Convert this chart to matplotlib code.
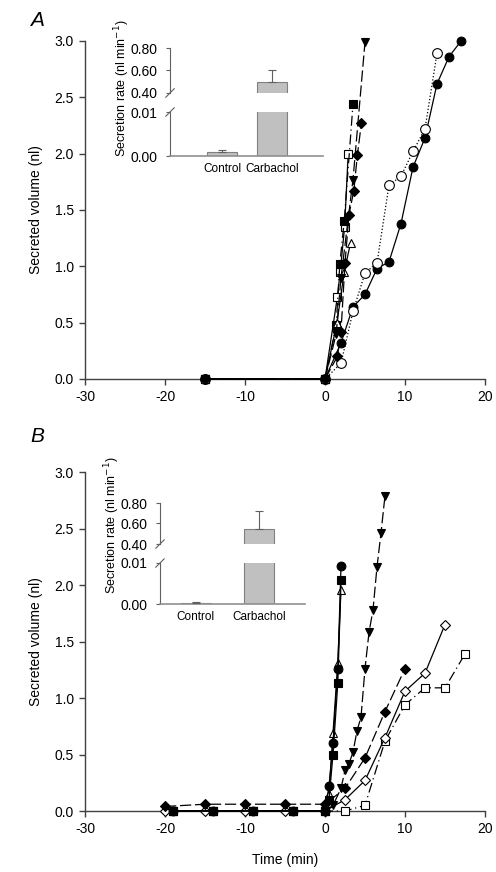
import matplotlib
matplotlib.use("Agg")
import matplotlib.pyplot as plt
import numpy as np

plt.rcParams['font.family'] = ['Liberation Sans', 'DejaVu Sans']
plt.rcParams['axes.unicode_minus'] = False

W, H = 496, 872

# ---- panel A data (time in min, volume in nl) ----
a_circ_x = [-15, 0, 2.0, 3.5, 5.0, 6.5, 8.0, 9.5, 11.0, 12.5, 14.0, 15.5, 17.0]
a_circ_y = [0, 0, 0.32, 0.64, 0.75, 0.98, 1.04, 1.38, 1.88, 2.14, 2.62, 2.86, 3.0]
a_ocirc_x = [-15, 0, 2.0, 3.5, 5.0, 6.5, 8.0, 9.5, 11.0, 12.5, 14.0]
a_ocirc_y = [0, 0, 0.14, 0.60, 0.94, 1.03, 1.72, 1.80, 2.02, 2.22, 2.89]
a_tri_x = [-15, 0, 1.4, 2.0, 3.5, 5.0]
a_tri_y = [0, 0, 0.40, 0.90, 1.77, 2.99]
a_sq_x = [-15, 0, 1.4, 1.85, 2.4, 3.5]
a_sq_y = [0, 0, 0.48, 1.02, 1.40, 2.44]
a_osq_x = [-15, 0, 1.55, 1.9, 2.45, 2.9]
a_osq_y = [0, 0, 0.73, 0.95, 1.35, 2.00]
a_dia_x = [-15, 0, 1.55, 2.0, 2.5, 3.0, 3.6, 4.05, 4.55]
a_dia_y = [0, 0, 0.20, 0.42, 1.03, 1.46, 1.67, 1.99, 2.27]
a_otri_x = [-15, 0, 1.5, 2.4, 3.2]
a_otri_y = [0, 0, 0.50, 0.95, 1.21]

# ---- panel B data ----
b_circ_x = [-19, -14, -9, -4, 0, 0.5, 1.0, 1.6, 2.0]
b_circ_y = [0, 0, 0, 0, 0, 0.22, 0.60, 1.26, 2.17]
b_sq_x = [-19, -14, -9, -4, 0, 0.5, 1.0, 1.6, 2.0]
b_sq_y = [0, 0, 0, 0, 0, 0.10, 0.50, 1.13, 2.04]
b_otri_x = [-19, -14, -9, -4, 0, 0.5, 1.0, 1.6, 2.0]
b_otri_y = [0, 0, 0, 0, 0, 0.15, 0.69, 1.31, 1.96]
b_tri_x = [-19, -14, -9, -4, 0, 1.0, 2.0, 2.5, 3.0, 3.5, 4.0, 4.5, 5.0, 5.5, 6.0, 6.5, 7.0, 7.5]
b_tri_y = [0, 0, 0, 0, 0, 0.05, 0.20, 0.36, 0.42, 0.52, 0.71, 0.83, 1.26, 1.58, 1.78, 2.16, 2.46, 2.79]
b_dia_x = [-20, -15, -10, -5, 0, 2.5, 5.0, 7.5, 10.0]
b_dia_y = [0.04, 0.06, 0.06, 0.06, 0.06, 0.20, 0.47, 0.88, 1.26]
b_odia_x = [-20, -15, -10, -5, 0, 2.5, 5.0, 7.5, 10.0, 12.5, 15.0]
b_odia_y = [0, 0, 0, 0, 0, 0.10, 0.27, 0.65, 1.06, 1.22, 1.65]
b_osq_x = [-19, -14, -9, -4, 0, 2.5, 5.0, 7.5, 10.0, 12.5, 15.0, 17.5]
b_osq_y = [0, 0, 0, 0, 0, 0.0, 0.05, 0.62, 0.94, 1.09, 1.09, 1.39]

# ---- insets: secretion rate (nl/min) ----
bar_labels = ["Control", "Carbachol"]
a_rate = [0.0008, 0.50]
a_err = [0.0006, 0.10]
b_rate = [0.0003, 0.546]
b_err = [0.0002, 0.18]

x_ticks = [-30, -20, -10, 0, 10, 20]
y_ticks = [0.0, 0.5, 1.0, 1.5, 2.0, 2.5, 3.0]

fig = plt.figure(figsize=(W / 100, H / 100), dpi=100)


def px_axes(left, top, right, bottom):
    return fig.add_axes([left / W, 1 - bottom / H, (right - left) / W, (bottom - top) / H])


LONG = (0, (9, 3))
DASHDOT = (0, (8, 3, 1, 3))
AX_COL = "#404040"


def style_main(ax, xlabel):
    for s in ("top", "right"):
        ax.spines[s].set_visible(False)
    for s in ("left", "bottom"):
        ax.spines[s].set_color(AX_COL)
        ax.spines[s].set_linewidth(1.0)
    ax.set_xlim(-30, 20)
    ax.set_ylim(0, 3.0)
    ax.set_xticks(x_ticks)
    ax.set_yticks(y_ticks)
    ax.set_yticklabels(["%.1f" % v for v in y_ticks])
    ax.tick_params(direction="out", length=4, width=1, color=AX_COL, labelsize=10, pad=4)
    ax.set_ylabel("Secreted volume (nl)", fontsize=10, labelpad=8)
    if xlabel:
        ax.set_xlabel("Time (min)", fontsize=10, labelpad=12)


def series(ax, x, y, marker, filled, ls, ms=6.3):
    ax.plot(x, y, color="black", lw=0.9, linestyle=ls, marker=marker, ms=ms,
            mfc="black" if filled else "white", mec="black", mew=0.8, clip_on=False, zorder=3)


def inset(left, right, top_hi, bot_hi, top_lo, bot_lo, rates, errs, xlim, width):
    lo = px_axes(left, top_lo, right, bot_lo)
    hi = px_axes(left, top_hi, right, bot_hi)
    for ax in (lo, hi):
        ax.patch.set_alpha(0)
        for s in ("top", "right"):
            ax.spines[s].set_visible(False)
        ax.spines["left"].set_color("#606060")
        ax.spines["left"].set_linewidth(0.8)
        ax.set_xlim(*xlim)
        ax.bar(range(len(rates)), rates, width=width, color="#c0c0c0",
               edgecolor="#808080", lw=0.8, zorder=2)
        ax.errorbar(range(len(rates)), rates, yerr=[[0] * len(errs), errs], fmt="none",
                    ecolor="#606060", elinewidth=0.8, capsize=3, capthick=0.8, zorder=3)
        ax.tick_params(axis="y", direction="out", length=3, width=0.8, color="#606060",
                       labelsize=10, pad=6)
    lo.set_ylim(0, 0.01)
    lo.set_yticks([0.0, 0.01])
    lo.set_yticklabels(["0.00", "0.01"])
    lo.spines["bottom"].set_color("#909090")
    lo.spines["bottom"].set_linewidth(1.2)
    lo.set_xticks(range(len(bar_labels)))
    lo.set_xticklabels(bar_labels, fontsize=8.5)
    lo.tick_params(axis="x", length=0, pad=5)
    hi.set_ylim(0.4, 0.8)
    hi.set_yticks([0.4, 0.6, 0.8])
    hi.set_yticklabels(["0.40", "0.60", "0.80"])
    hi.spines["bottom"].set_visible(False)
    hi.set_xticks([])
    # break marks
    for ax, yy in ((lo, 1.0), (hi, 0.0)):
        dx, dy = 7.0 / (right - left), 7.0 / (bot_lo - top_lo)
        ax.plot([-dx * 0.6, dx * 0.6], [yy - dy * 0.6, yy + dy * 0.6], transform=ax.transAxes,
                color="#606060", lw=0.8, clip_on=False)
    return lo, hi


# ---------------- panel A ----------------
axA = px_axes(85, 41, 485, 379)
style_main(axA, False)
series(axA, a_circ_x, a_circ_y, "o", True, "-")
series(axA, a_ocirc_x, a_ocirc_y, "o", False, ":", ms=7)
series(axA, a_osq_x, a_osq_y, "s", False, "-", ms=6)
series(axA, a_sq_x, a_sq_y, "s", True, DASHDOT, ms=6)
series(axA, a_otri_x, a_otri_y, "^", False, "-")
series(axA, a_dia_x, a_dia_y, "D", True, LONG, ms=5.5)
series(axA, a_tri_x, a_tri_y, "v", True, LONG)
fig.text(30 / W, 1 - 20 / H, "A", fontsize=15, style="italic", ha="left", va="center")

inset(170, 323, 48, 93, 112, 156, a_rate, a_err, (-1.04, 2.02), 0.6)
fig.text(122 / W, 1 - 88 / H, "Secretion rate (nl min$^{-1}$)", rotation=90,
         fontsize=9, ha="center", va="center")

# ---------------- panel B ----------------
axB = px_axes(85, 472, 485, 811)
style_main(axB, True)
series(axB, b_osq_x, b_osq_y, "s", False, DASHDOT, ms=6)
series(axB, b_odia_x, b_odia_y, "D", False, "-", ms=5.5)
series(axB, b_dia_x, b_dia_y, "D", True, LONG, ms=5.5)
series(axB, b_tri_x, b_tri_y, "v", True, LONG)
series(axB, b_otri_x, b_otri_y, "^", False, "-")
series(axB, b_sq_x, b_sq_y, "s", True, "-", ms=6)
series(axB, b_circ_x, b_circ_y, "o", True, "-")
fig.text(30 / W, 1 - 437 / H, "B", fontsize=15, style="italic", ha="left", va="center")

inset(160, 305, 503, 544, 563, 604, b_rate, b_err, (-0.57, 1.73), 0.48)
fig.text(112 / W, 1 - 525 / H, "Secretion rate (nl min$^{-1}$)", rotation=90,
         fontsize=9, ha="center", va="center")

fig.savefig("out.png", dpi=100)
